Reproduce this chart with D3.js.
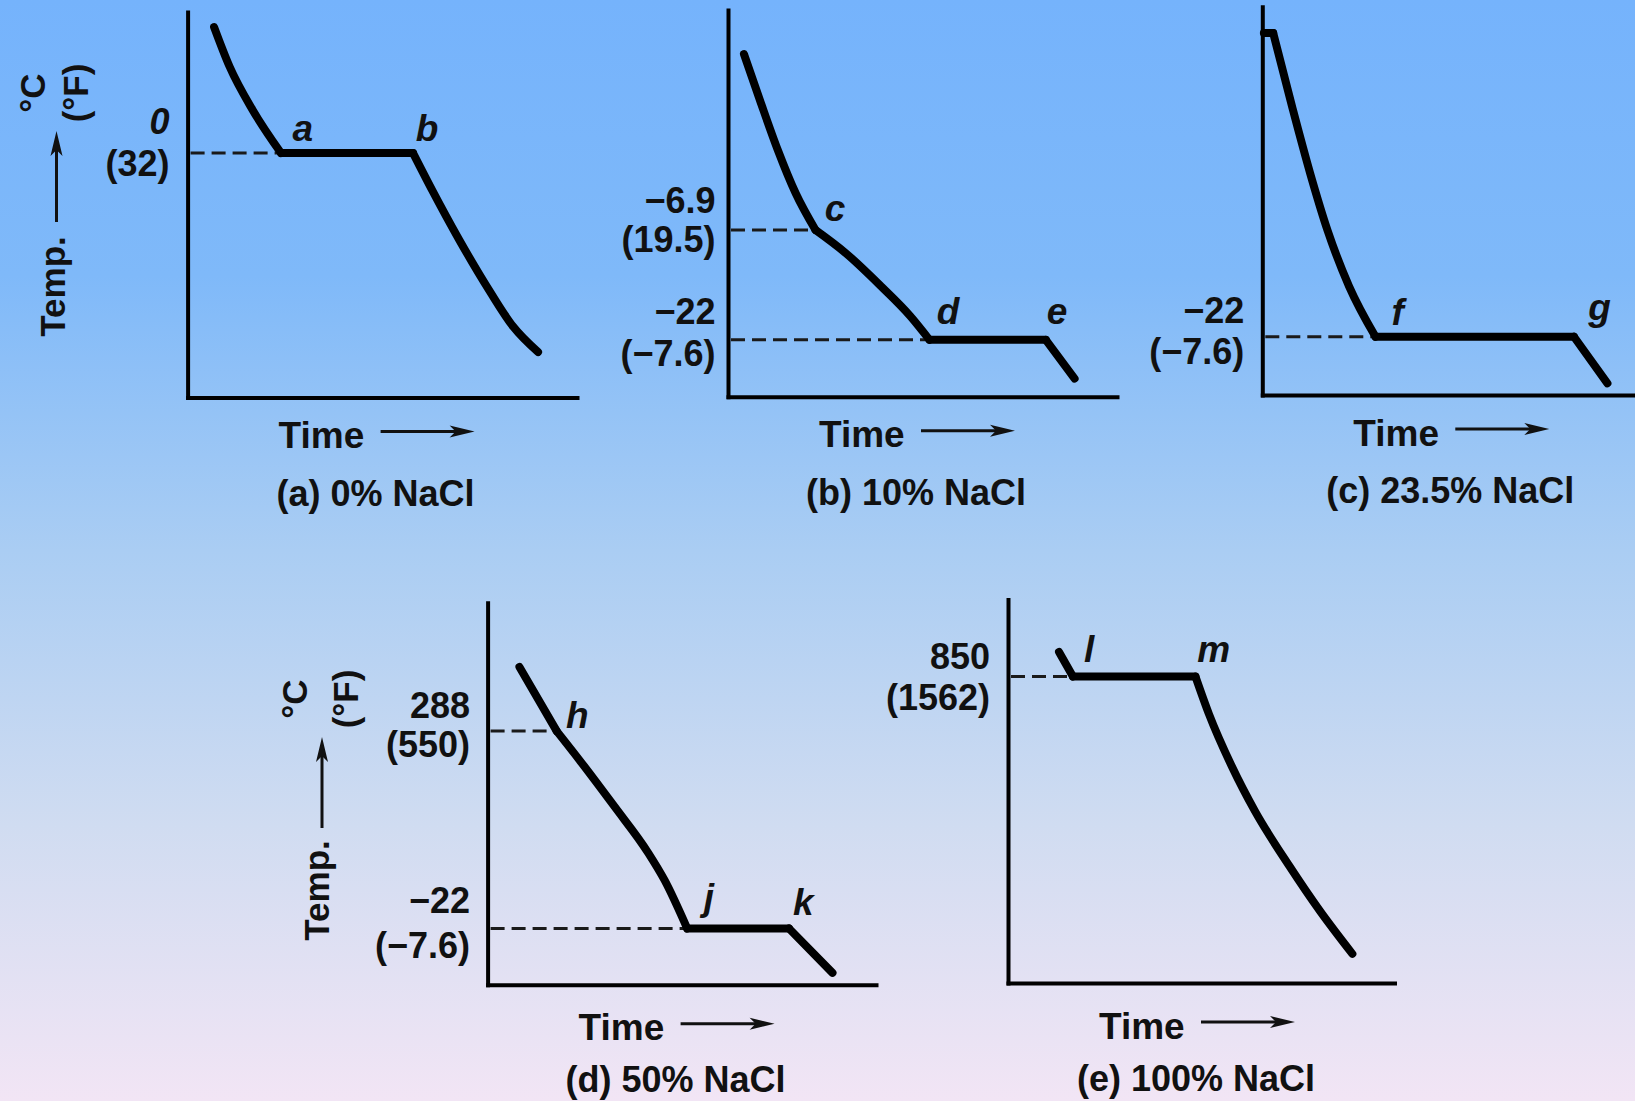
<!DOCTYPE html>
<html>
<head>
<meta charset="utf-8">
<script src="https://cdn.jsdelivr.net/npm/d3@7"></script>
<style>
  html, body { margin: 0; padding: 0; overflow: hidden; }
  text { font-family: "Liberation Sans", Arial, Helvetica, sans-serif; fill: #111; }
</style>
</head>
<body>
<div id="root"></div>
<script>
// cooling curves, NaCl - water. time and temperature are schematic, 0..100 on each panel
const captions = ["(a) 0% NaCl", "(b) 10% NaCl", "(c) 23.5% NaCl", "(d) 50% NaCl", "(e) 100% NaCl"];

// each curve is a list of pieces [time, temp], split where the slope breaks
const curveA = [
    [[6.8, 96.1], [10.8, 85.8], [16.7, 74.6], [24.0, 63.4]],
    [[24.0, 63.4], [57.9, 63.4]],
    [[57.9, 63.4], [62.8, 53.8], [69.7, 41.0], [77.7, 27.4], [83.6, 18.4], [90.0, 11.8]]
];
const curveB = [
    [[4.1, 88.6], [8.2, 76.7], [12.8, 63.8], [17.4, 52.6], [22.5, 43.1]],
    [[22.5, 43.1], [30.3, 37.1], [39.5, 28.4], [46.8, 20.9], [51.8, 14.7]],
    [[51.8, 14.7], [81.7, 14.7]],
    [[81.7, 14.7], [89.1, 4.7]]
];
const curveC = [
    [[0.4, 93.2], [2.8, 93.2]],
    [[2.8, 93.2], [7.7, 74.1], [12.3, 57.1], [16.8, 42.3], [22.3, 28.0], [29.1, 15.0]],
    [[29.1, 15.0], [80.1, 15.0]],
    [[80.1, 15.0], [88.7, 3.0]]
];
const curveD = [
    [[8.2, 83.2], [17.8, 66.4]],
    [[17.8, 66.4], [24.2, 58.1], [32.7, 46.6], [41.3, 34.6], [45.6, 27.3], [51.4, 14.7]],
    [[51.4, 14.7], [77.6, 14.7]],
    [[77.6, 14.7], [88.8, 3.1]]
];
const curveE = [
    [[13.2, 86.3], [16.8, 79.9]],
    [[16.8, 79.9], [48.5, 79.9]],
    [[48.5, 79.9], [52.0, 70.1], [57.9, 56.5], [63.9, 44.8], [72.8, 30.5], [80.7, 18.8], [89.1, 7.6]]
];

// arrest levels: dashed from the axis to the point, deg C above and (deg F) below
const levelsA = [{ t: 24.0, T: 63.4, c: "0", f: "(32)" }];
const levelsB = [{ t: 22.5, T: 43.1, c: "\u22126.9", f: "(19.5)" }, { t: 51.8, T: 14.7, c: "\u221222", f: "(\u22127.6)" }];
const levelsC = [{ t: 29.1, T: 15.0, c: "\u221222", f: "(\u22127.6)" }];
const levelsD = [{ t: 17.8, T: 66.4, c: "288", f: "(550)" }, { t: 51.4, T: 14.7, c: "\u221222", f: "(\u22127.6)" }];
const levelsE = [{ t: 16.8, T: 79.9, c: "850", f: "(1562)" }];

// point letters
const pointsA = [{ name: "a", t: 29.6, T: 66.5 }, { name: "b", t: 61.5, T: 66.5 }];
const pointsB = [{ name: "c", t: 27.5, T: 45.4 }, { name: "d", t: 56.6, T: 18.8 }, { name: "e", t: 84.6, T: 18.8 }];
const pointsC = [{ name: "f", t: 34.8, T: 18.0 }, { name: "g", t: 86.7, T: 19.3 }];
const pointsD = [{ name: "h", t: 23.1, T: 67.2 }, { name: "j", t: 57.0, T: 19.6 }, { name: "k", t: 81.3, T: 18.3 }];
const pointsE = [{ name: "l", t: 21.0, T: 83.7 }, { name: "m", t: 53.2, T: 83.7 }];

let width = 1635;
let height = 1101;

// where each panel's axes sit on the page, and label nudges
let panels = [
    { box: [187.6, 12, 577, 397.5], curve: curveA, levels: levelsA, points: pointsA, dy: [[-19, 23]], gap: 18, shift: 0, cap: 108 },
    { box: [728, 10, 1117, 396.7], curve: curveB, levels: levelsB, points: pointsB, dy: [[-17.5, 22], [-16, 26]], gap: 12.5, shift: 0, cap: 108 },
    { box: [1262.3, 6.7, 1651.4, 395], curve: curveC, levels: levelsC, points: pointsC, dy: [[-14, 27]], gap: 18, shift: 0, cap: 108 },
    { box: [487.6, 602.8, 876, 984.7], curve: curveD, levels: levelsD, points: pointsD, dy: [[-13, 26], [-16, 29]], gap: 17.5, shift: 5, cap: 102 },
    { box: [1008, 599.4, 1394.5, 983], curve: curveE, levels: levelsE, points: pointsE, dy: [[-8, 33]], gap: 18, shift: 5, cap: 103 }
];

// the "Temp. -> degC (degF)" titles on panels a and d
let yTitles = [
    { degC: [45, 93], degF: [88, 93], temp: [65, 286.5], arrow: [56.5, 222, 131] },
    { degC: [307, 699], degF: [358, 699], temp: [329, 890.5], arrow: [322, 828, 737] }
];

let svg = d3.select('#root').append('svg')
    .attr('width', width)
    .attr('height', height);

let grad = svg.append('defs').append('linearGradient')
    .attr('id', 'bg')
    .attr('x1', 0).attr('y1', 0).attr('x2', 0).attr('y2', 1);
[[0, '#75b3fc'], [0.25, '#7fb9f9'], [0.5, '#aacdf3'], [0.75, '#d0dcf1'], [1, '#f2e5f5']].forEach(function (s) {
    grad.append('stop').attr('offset', s[0]).attr('stop-color', s[1]);
});

svg.append('rect')
    .attr('width', width)
    .attr('height', height)
    .attr('fill', 'url(#bg)');

function arrowHead(g, x, y, dir) {
    // dir: 'right' or 'up'
    let p;
    if (dir === 'right') {
        p = [[x, y], [x - 25, y - 6], [x - 19, y], [x - 25, y + 6]];
    } else {
        p = [[x, y], [x - 6, y + 25], [x, y + 19], [x + 6, y + 25]];
    }
    g.append('path')
        .attr('d', 'M' + p.join('L') + 'Z')
        .attr('fill', '#111');
}

panels.forEach(function (p, i) {
    let [left, top, right, bottom] = p.box;

    let x = d3.scaleLinear().domain([0, 100]).range([left, right]);
    let y = d3.scaleLinear().domain([0, 100]).range([bottom, top]);

    let g = svg.append('g').attr('class', 'panel');

    g.append('g')
        .attr('transform', 'translate(0,' + bottom + ')')
        .call(d3.axisBottom(x).tickValues([]).tickSizeOuter(0));
    g.append('g')
        .attr('transform', 'translate(' + left + ',0)')
        .call(d3.axisLeft(y).tickValues([]).tickSizeOuter(0));
    g.selectAll('.domain')
        .attr('stroke', '#000')
        .attr('stroke-width', 4)
        .attr('stroke-linecap', 'square');

    // dashed level lines
    g.selectAll('.level')
        .data(p.levels)
        .enter().append('line')
        .attr('class', 'level')
        .attr('x1', x(0) + 3)
        .attr('x2', function (d) { return x(d.t); })
        .attr('y1', function (d) { return y(d.T); })
        .attr('y2', function (d) { return y(d.T); })
        .attr('stroke', '#1a1a1a')
        .attr('stroke-width', 3)
        .attr('stroke-dasharray', '14,7');

    p.levels.forEach(function (d, k) {
        g.append('text')
            .attr('x', left - p.gap)
            .attr('y', y(d.T) + p.dy[k][0])
            .attr('text-anchor', 'end')
            .style('font-size', '36px')
            .style('font-weight', 'bold')
            .style('font-style', d.c === '0' ? 'italic' : 'normal')
            .text(d.c);
        g.append('text')
            .attr('x', left - p.gap)
            .attr('y', y(d.T) + p.dy[k][1])
            .attr('text-anchor', 'end')
            .style('font-size', '36px')
            .style('font-weight', 'bold')
            .text(d.f);
    });

    let line = d3.line()
        .x(function (d) { return x(d[0]); })
        .y(function (d) { return y(d[1]); })
        .curve(d3.curveMonotoneX);

    g.selectAll('.curve')
        .data(p.curve)
        .enter().append('path')
        .attr('class', 'curve')
        .attr('d', line)
        .attr('fill', 'none')
        .attr('stroke', '#000')
        .attr('stroke-width', 8)
        .attr('stroke-linecap', 'round')
        .attr('stroke-linejoin', 'round');

    g.selectAll('.pt')
        .data(p.points)
        .enter().append('text')
        .attr('class', 'pt')
        .attr('x', function (d) { return x(d.t); })
        .attr('y', function (d) { return y(d.T); })
        .attr('text-anchor', 'middle')
        .style('font-size', '37px')
        .style('font-weight', 'bold')
        .style('font-style', 'italic')
        .text(function (d) { return d.name; });

    // Time ---->
    let b = bottom + p.shift;
    g.append('text')
        .attr('x', left + 91)
        .attr('y', b + 50.5)
        .style('font-size', '37px')
        .style('font-weight', 'bold')
        .text('Time');
    g.append('line')
        .attr('x1', left + 193).attr('x2', left + 270)
        .attr('y1', b + 34).attr('y2', b + 34)
        .attr('stroke', '#111').attr('stroke-width', 3);
    arrowHead(g, left + 287, b + 34, 'right');

    g.append('text')
        .attr('x', left + 188)
        .attr('y', b + p.cap)
        .attr('text-anchor', 'middle')
        .style('font-size', '36px')
        .style('font-weight', 'bold')
        .text(captions[i]);
});

yTitles.forEach(function (t) {
    let g = svg.append('g').attr('class', 'ytitle');
    [[t.degC, '\u00b0C'], [t.degF, '(\u00b0F)'], [t.temp, 'Temp.']].forEach(function (e) {
        g.append('text')
            .attr('transform', 'translate(' + e[0][0] + ',' + e[0][1] + ') rotate(-90)')
            .attr('text-anchor', 'middle')
            .style('font-size', '35px')
            .style('font-weight', 'bold')
            .text(e[1]);
    });
    let [ax, tail, tip] = t.arrow;
    g.append('line')
        .attr('x1', ax).attr('x2', ax)
        .attr('y1', tail).attr('y2', tip + 18)
        .attr('stroke', '#111').attr('stroke-width', 3);
    arrowHead(g, ax, tip, 'up');
});
</script>
</body>
</html>
